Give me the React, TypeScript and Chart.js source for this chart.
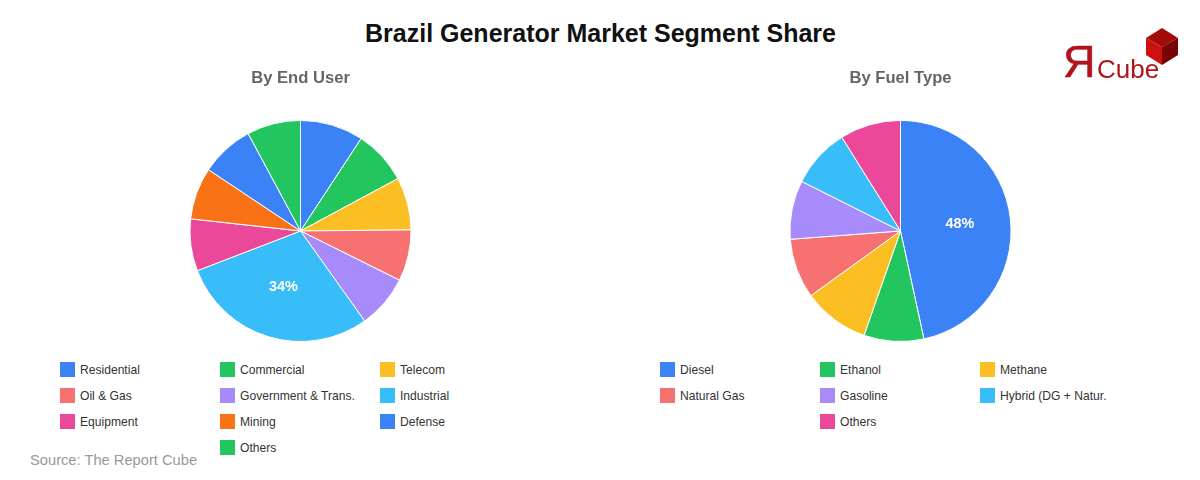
import React, { useEffect, useRef } from "react";
import { Chart, registerables, Plugin } from "chart.js";

Chart.register(...registerables);

const FONT = '"Liberation Sans", Arial, sans-serif';

const endUserCategories = [
  "Residential",
  "Commercial",
  "Telecom",
  "Oil & Gas",
  "Government & Trans.",
  "Industrial",
  "Equipment",
  "Mining",
  "Defense",
  "Others",
];
const endUserValues = [9.25, 7.9, 7.7, 7.5, 7.8, 29, 7.6, 7.6, 7.8, 7.85];
const endUserLabels = ["", "", "", "", "", "34%", "", "", "", ""];
const endUserColors = [
  "#3B82F6",
  "#22C55E",
  "#FBBF24",
  "#F87171",
  "#A78BFA",
  "#38BDF8",
  "#EC4899",
  "#F97316",
  "#3B82F6",
  "#22C55E",
];

const fuelCategories = [
  "Diesel",
  "Ethanol",
  "Methane",
  "Natural Gas",
  "Gasoline",
  "Hybrid (DG + Natur.",
  "Others",
];
const fuelValues = [46.6, 8.75, 9.7, 8.75, 8.6, 8.7, 8.9];
const fuelLabels = ["48%", "", "", "", "", "", ""];
const fuelColors = [
  "#3B82F6",
  "#22C55E",
  "#FBBF24",
  "#F87171",
  "#A78BFA",
  "#38BDF8",
  "#EC4899",
];

// writes the percent text on the slices that have one
function sliceLabelPlugin(texts: string[]): Plugin<"pie"> {
  return {
    id: "sliceLabels",
    afterDatasetsDraw(chart) {
      const ctx = chart.ctx;
      ctx.save();
      ctx.fillStyle = "#fff";
      ctx.font = `bold 14.4px ${FONT}`;
      ctx.textAlign = "center";
      ctx.textBaseline = "middle";
      chart.getDatasetMeta(0).data.forEach((arc: any, i) => {
        if (!texts[i]) return;
        const mid = (arc.startAngle + arc.endAngle) / 2;
        const r = arc.outerRadius * 0.54;
        ctx.fillText(texts[i], arc.x + Math.cos(mid) * r, arc.y + Math.sin(mid) * r - 0.7);
      });
      ctx.restore();
    },
  };
}

interface PieProps {
  title: string;
  left: number;
  categories: string[];
  values: number[];
  colors: string[];
  texts: string[];
}

function Pie({ title, left, categories, values, colors, texts }: PieProps) {
  const canvasRef = useRef<HTMLCanvasElement | null>(null);

  useEffect(() => {
    if (!canvasRef.current) return;
    const chart = new Chart(canvasRef.current, {
      type: "pie",
      data: {
        labels: categories,
        datasets: [
          {
            data: values,
            backgroundColor: colors,
            borderColor: "#fff",
            borderWidth: 1,
          },
        ],
      },
      options: {
        animation: false,
        responsive: false,
        plugins: {
          legend: { display: false },
          tooltip: { enabled: false },
          title: {
            display: true,
            text: title,
            color: "#666",
            font: { family: FONT, size: 16.6, weight: "bold" },
            padding: { top: 3, bottom: 32 },
          },
        },
      },
      plugins: [sliceLabelPlugin(texts)],
    });
    return () => chart.destroy();
  }, []);

  return (
    <canvas
      ref={canvasRef}
      width={601}
      height={277}
      style={{ position: "absolute", left, top: 65, width: 601, height: 277 }}
    />
  );
}

function Legend({
  left,
  categories,
  colors,
}: {
  left: number;
  categories: string[];
  colors: string[];
}) {
  return (
    <>
      {categories.map((name, i) => {
        // a last item alone on its row sits in the middle column
        const alone = i === categories.length - 1 && i % 3 === 0;
        const col = alone ? 1 : i % 3;
        return (
          <div
            key={name + i}
            style={{
              position: "absolute",
              left: left + col * 160,
              top: 361 + Math.floor(i / 3) * 26,
              height: 16,
              display: "flex",
              alignItems: "center",
              font: `12.1px ${FONT}`,
              color: "#333",
              whiteSpace: "nowrap",
            }}
          >
            <span
              style={{
                width: 15,
                height: 15,
                marginRight: 5,
                background: colors[i],
              }}
            />
            <span style={{ position: "relative", top: 0.5 }}>{name}</span>
          </div>
        );
      })}
    </>
  );
}

function Logo() {
  return (
    <svg
      width={150}
      height={75}
      viewBox="1040 15 150 75"
      style={{ position: "absolute", left: 1040, top: 15 }}
    >
      <polygon points="1162,28 1178,38 1162,47 1146,38" fill="#a30b0b" />
      <polygon points="1146,38 1162,47 1162,65 1146,55" fill="#cf1010" />
      <polygon points="1178,38 1162,47 1162,65 1178,55" fill="#770404" />
      <text
        x={1063}
        y={77}
        fontFamily={FONT}
        fontSize={45}
        fill="#b0141a"
        stroke="#b0141a"
        strokeWidth={0.5}
      >
        Я
      </text>
      <text x={1097} y={78} fontFamily={FONT} fontSize={26} fill="#b0141a">
        Cube
      </text>
    </svg>
  );
}

export default function App() {
  return (
    <div
      style={{
        position: "fixed",
        left: 0,
        top: 0,
        width: 1200,
        height: 480,
        background: "#fff",
        overflow: "hidden",
        fontFamily: FONT,
      }}
    >
      <div
        style={{
          position: "absolute",
          left: 0,
          top: 19,
          width: 1201,
          textAlign: "center",
          font: `bold 25px ${FONT}`,
          color: "#111",
        }}
      >
        Brazil Generator Market Segment Share
      </div>
      <Pie
        title="By End User"
        left={0}
        categories={endUserCategories}
        values={endUserValues}
        colors={endUserColors}
        texts={endUserLabels}
      />
      <Pie
        title="By Fuel Type"
        left={600}
        categories={fuelCategories}
        values={fuelValues}
        colors={fuelColors}
        texts={fuelLabels}
      />
      <Legend left={60} categories={endUserCategories} colors={endUserColors} />
      <Legend left={660} categories={fuelCategories} colors={fuelColors} />
      <Logo />
      <div
        style={{
          position: "absolute",
          left: 30,
          top: 452,
          font: `14.7px ${FONT}`,
          color: "#999",
        }}
      >
        Source: The Report Cube
      </div>
    </div>
  );
}
